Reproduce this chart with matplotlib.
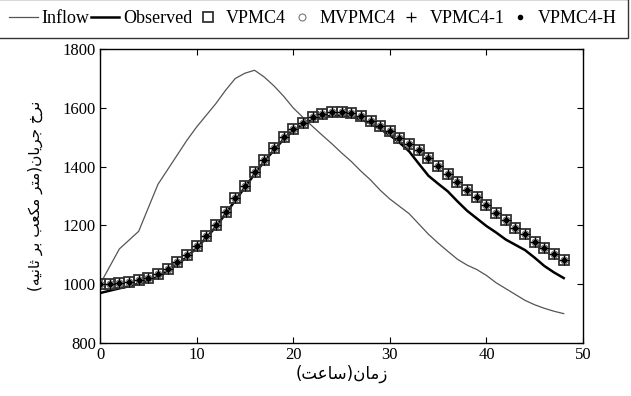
import numpy as np
import matplotlib
matplotlib.use("Agg")
import matplotlib.pyplot as plt

# ---------------- data ----------------
hours = list(range(0, 49))

inflow = [1000, 1060, 1120, 1150, 1180, 1260, 1340, 1390, 1440, 1490,
          1535, 1575, 1615, 1660, 1700, 1718, 1728, 1705, 1675, 1640,
          1600, 1568, 1537, 1507, 1478, 1447, 1418, 1385, 1355, 1320,
          1290, 1265, 1240, 1205, 1170, 1140, 1112, 1085, 1065, 1050,
          1030, 1005, 985, 965, 945, 930, 918, 908, 900]

observed = [970, 978, 986, 993, 1002, 1012, 1026, 1045, 1067, 1093,
            1124, 1158, 1196, 1240, 1285, 1330, 1375, 1418, 1456, 1493,
            1522, 1544, 1560, 1569, 1573, 1574, 1570, 1561, 1547, 1528,
            1507, 1482, 1452, 1410, 1369, 1342, 1316, 1282, 1250, 1224,
            1198, 1176, 1152, 1134, 1116, 1090, 1062, 1040, 1021]

vpmc4 = [1000, 1000, 1003, 1008, 1015, 1022, 1034, 1053, 1074, 1099,
         1131, 1165, 1202, 1247, 1292, 1335, 1381, 1424, 1462, 1500,
         1528, 1548, 1568, 1580, 1585, 1585, 1582, 1571, 1556, 1539,
         1520, 1499, 1478, 1456, 1428, 1402, 1376, 1348, 1322, 1296,
         1268, 1244, 1219, 1193, 1170, 1145, 1122, 1102, 1082]
mvpmc4 = list(vpmc4)
vpmc4_1 = list(vpmc4)
vpmc4_h = list(vpmc4)

series_labels = ["Inflow", "Observed", "VPMC4", "MVPMC4", "VPMC4-1", "VPMC4-H"]
xticks = [0, 10, 20, 30, 40, 50]
yticks = [800, 1000, 1200, 1400, 1600, 1800]

# Persian labels (presentation forms, visual order)
xlabel = "(" + "\uFE96\uFECB\uFE8E\uFEB3" + ")" + "\uFEE5\uFE8E\uFEE3\uFEAF"
ylabel = ("(" + "\uFEEA\uFBFF\uFEE7\uFE8E\uFE9B" + " " + "\uFEAE\uFE91" + " "
          + "\uFE90\uFECC\uFB91\uFEE3" + " " + "\uFEAE\uFE98\uFEE3" + ")"
          + "\uFEE5\uFE8E\uFBFE\uFEAE\uFE9F" + " " + "\uFEA5\uFEAE\uFEE7")

# ---------------- figure ----------------
plt.rcParams['font.family'] = ['Liberation Serif', 'DejaVu Sans']
fig = plt.figure(figsize=(6.31, 3.96), dpi=100)
ax = fig.add_axes([0.1585, 0.1338, 0.7655, 0.7422])

ax.plot(hours, inflow, color='#555555', lw=0.9, label=series_labels[0])
ax.plot(hours, observed, color='black', lw=1.8, label=series_labels[1])
ax.plot(hours, vpmc4, ls='none', marker='s', ms=7.5, mfc='none',
        mec='#333333', mew=1.3, label=series_labels[2])
ax.plot(hours, mvpmc4, ls='none', marker='o', ms=5, mfc='none',
        mec='#777777', mew=0.8, label=series_labels[3])
ax.plot(hours, vpmc4_1, ls='none', marker='+', ms=7, mec='black',
        mew=0.9, label=series_labels[4])
ax.plot(hours, vpmc4_h, ls='none', marker='.', ms=6, color='black',
        label=series_labels[5])

ax.set_xlim(0, 50)
ax.set_ylim(800, 1800)
ax.set_xticks(xticks)
ax.set_yticks(yticks)
ax.tick_params(direction='in', top=True, right=True, length=4,
               labelsize=12, pad=3)
for s in ax.spines.values():
    s.set_linewidth(1.0)

ax.set_xlabel(xlabel, fontsize=12, family=['DejaVu Sans'], labelpad=1)
ax.set_ylabel(ylabel, fontsize=11, family=['DejaVu Sans'], labelpad=14)

leg = fig.legend(loc='upper left', bbox_to_anchor=(-0.003, 0.912, 0.998, 0.09),
                 mode='expand', ncol=6, fontsize=13, frameon=True,
                 fancybox=False, edgecolor='black', handlelength=1.6,
                 handletextpad=0.2, columnspacing=0.3, borderpad=0.6,
                 borderaxespad=0.0)
leg.get_frame().set_linewidth(1.0)

fig.savefig("out.png", dpi=100)
